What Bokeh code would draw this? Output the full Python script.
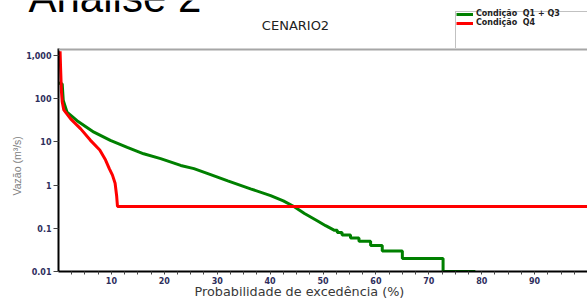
from bokeh.plotting import figure
from bokeh.models import Label, Legend, LegendItem, FixedTicker, BoxAnnotation, Title, Span
from bokeh.layouts import column
from bokeh.embed import file_html
from bokeh.resources import INLINE

# ---- data ----
green_x = [0.0, 0.7, 0.9, 1.6, 3.5, 6.7, 9.8, 13.0, 16.1, 19.3, 23.1, 25.6, 28.5, 32.0,
           36.3, 40.1, 42.5, 44.5, 46.5, 48.9, 50.5, 52.0,
           52.0, 52.7, 52.7, 53.6, 53.6, 55.2, 55.2, 56.8, 56.8, 59.0, 59.0,
           61.2, 61.2, 65.0, 65.0, 72.7, 72.7, 78.8]
green_y = [230, 220, 91, 49, 31, 16.8, 10.8, 7.5, 5.3, 4.1, 2.85, 2.4, 1.8, 1.25,
           0.82, 0.57, 0.43, 0.32, 0.22, 0.15, 0.115, 0.092,
           0.09, 0.09, 0.08, 0.08, 0.07, 0.07, 0.06, 0.06, 0.05, 0.05, 0.04,
           0.04, 0.03, 0.03, 0.02, 0.02, 0.01, 0.01]

red_x = [0.3, 0.4, 0.55, 0.7, 1.0, 2.3, 4.2, 6.0, 7.8, 8.9, 9.6, 10.2, 10.7, 11.0, 11.15, 100.0]
red_y = [1250, 500, 150, 85, 55, 34, 20, 11, 6.5, 3.8, 2.4, 1.7, 1.1, 0.55, 0.32, 0.32]

series_labels = ["Condição  Q1 + Q3", "Condição  Q4"]
series_colors = ["#008000", "#ff0000"]
x_ticks = [10, 20, 30, 40, 50, 60, 70, 80, 90]
x_minor = [v * 2.5 for v in range(1, 40) if v % 4 != 0]
y_ticks = [0.01, 0.1, 1, 10, 100, 1000]
y_tick_labels = ["0.01", "0.1", "1", "10", "100", "1,000"]
y_top = 1450

# ---- header strip (page title, chart title, legend) ----
head = figure(width=587, height=48, x_range=(0, 1), y_range=(0, 1),
              output_backend="svg", toolbar_location=None,
              x_axis_location=None, y_axis_location=None,
              min_border_left=0, min_border_right=0, min_border_top=0,
              min_border_bottom=0, title=None)
head.frame_align = False
head.grid.visible = False
head.outline_line_color = None

# legend-only renderers (a single undefined point: nothing drawn in the strip)
nan = float("nan")
hg = head.line([nan], [nan], line_color=series_colors[0], line_width=3)
hr = head.line([nan], [nan], line_color=series_colors[1], line_width=3)

head.add_layout(BoxAnnotation(left=455, right=700, top=37, bottom=-5,
                              left_units="screen", right_units="screen",
                              top_units="screen", bottom_units="screen",
                              fill_color="white", fill_alpha=1.0,
                              line_color="#333333", line_width=1))
legend = Legend(items=[LegendItem(label=series_labels[0], renderers=[hg]),
                       LegendItem(label=series_labels[1], renderers=[hr])],
                location=(456, 21), padding=0, spacing=-1, margin=0,
                glyph_width=17, glyph_height=6, label_height=7, label_standoff=3,
                label_text_font="DejaVu Sans", label_text_font_size="8px",
                label_text_font_style="bold", label_text_color="#222222",
                border_line_color=None, background_fill_alpha=0.0)
head.add_layout(legend)

head.add_layout(Label(x=28, y=51.5, x_units="screen", y_units="screen",
                      text="Análise 2", text_font="Liberation Sans",
                      text_font_size="42px", text_color="black",
                      text_baseline="middle"))
head.add_layout(Label(x=295, y=23, x_units="screen", y_units="screen",
                      text="CENARIO2", text_font="DejaVu Sans",
                      text_font_size="13px", text_color="#222222",
                      text_align="center", text_baseline="middle"))

# ---- main chart ----
p = figure(width=587, height=250, x_range=(0, 100), y_range=(0.01, y_top),
           y_axis_type="log", output_backend="svg", toolbar_location=None,
           min_border_left=58, min_border_right=0, min_border_top=0,
           min_border_bottom=27, title=None)
p.frame_align = False
p.grid.visible = False
p.outline_line_color = None
p.add_layout(Span(location=y_top, dimension="width", line_color="#a6a6a6", line_width=4))

tick_color = "#2e2e5c"
xa = p.xaxis[0]
xa.ticker = FixedTicker(ticks=x_ticks, minor_ticks=x_minor)
xa.axis_line_color = "black"
xa.axis_line_width = 2
xa.major_tick_in = 0
xa.major_tick_out = 3
xa.minor_tick_in = 0
xa.minor_tick_out = 3
xa.major_tick_line_color = "#444444"
xa.minor_tick_line_color = "#444444"
xa.major_label_text_font = "DejaVu Sans"
xa.major_label_text_font_size = "8px"
xa.major_label_text_font_style = "bold"
xa.major_label_text_color = tick_color
xa.major_label_standoff = 2

ya = p.yaxis[0]
ya.ticker = FixedTicker(ticks=y_ticks, minor_ticks=[])
ya.major_label_overrides = {t: l for t, l in zip(y_ticks, y_tick_labels)}
ya.axis_line_color = "black"
ya.axis_line_width = 2
ya.major_tick_in = 0
ya.major_tick_out = 5
ya.minor_tick_out = 0
ya.minor_tick_in = 0
ya.major_tick_line_color = "#444444"
ya.major_label_text_font = "DejaVu Sans"
ya.major_label_text_font_size = "8px"
ya.major_label_text_font_style = "bold"
ya.major_label_text_color = tick_color
ya.major_label_standoff = 2

p.line(green_x, green_y, line_color=series_colors[0], line_width=3)
p.line(red_x, red_y, line_color=series_colors[1], line_width=3)

p.add_layout(Title(text="Probabilidade de excedência (%)", align="left", offset=136,
                   vertical_align="top", standoff=-6, text_font="DejaVu Sans",
                   text_font_size="12.8px", text_font_style="normal",
                   text_color="#383838"), "below")
p.add_layout(Title(text="Vazão (m³/s)", align="left", offset=76,
                   vertical_align="middle", standoff=0,
                   text_font="'Liberation Sans Narrow', 'Liberation Sans', sans-serif",
                   text_font_size="10.5px",
                   text_font_style="normal", text_color="#808080"), "left")

layout = column(head, p, spacing=0)
open("out.html", "w").write(file_html(layout, INLINE))
